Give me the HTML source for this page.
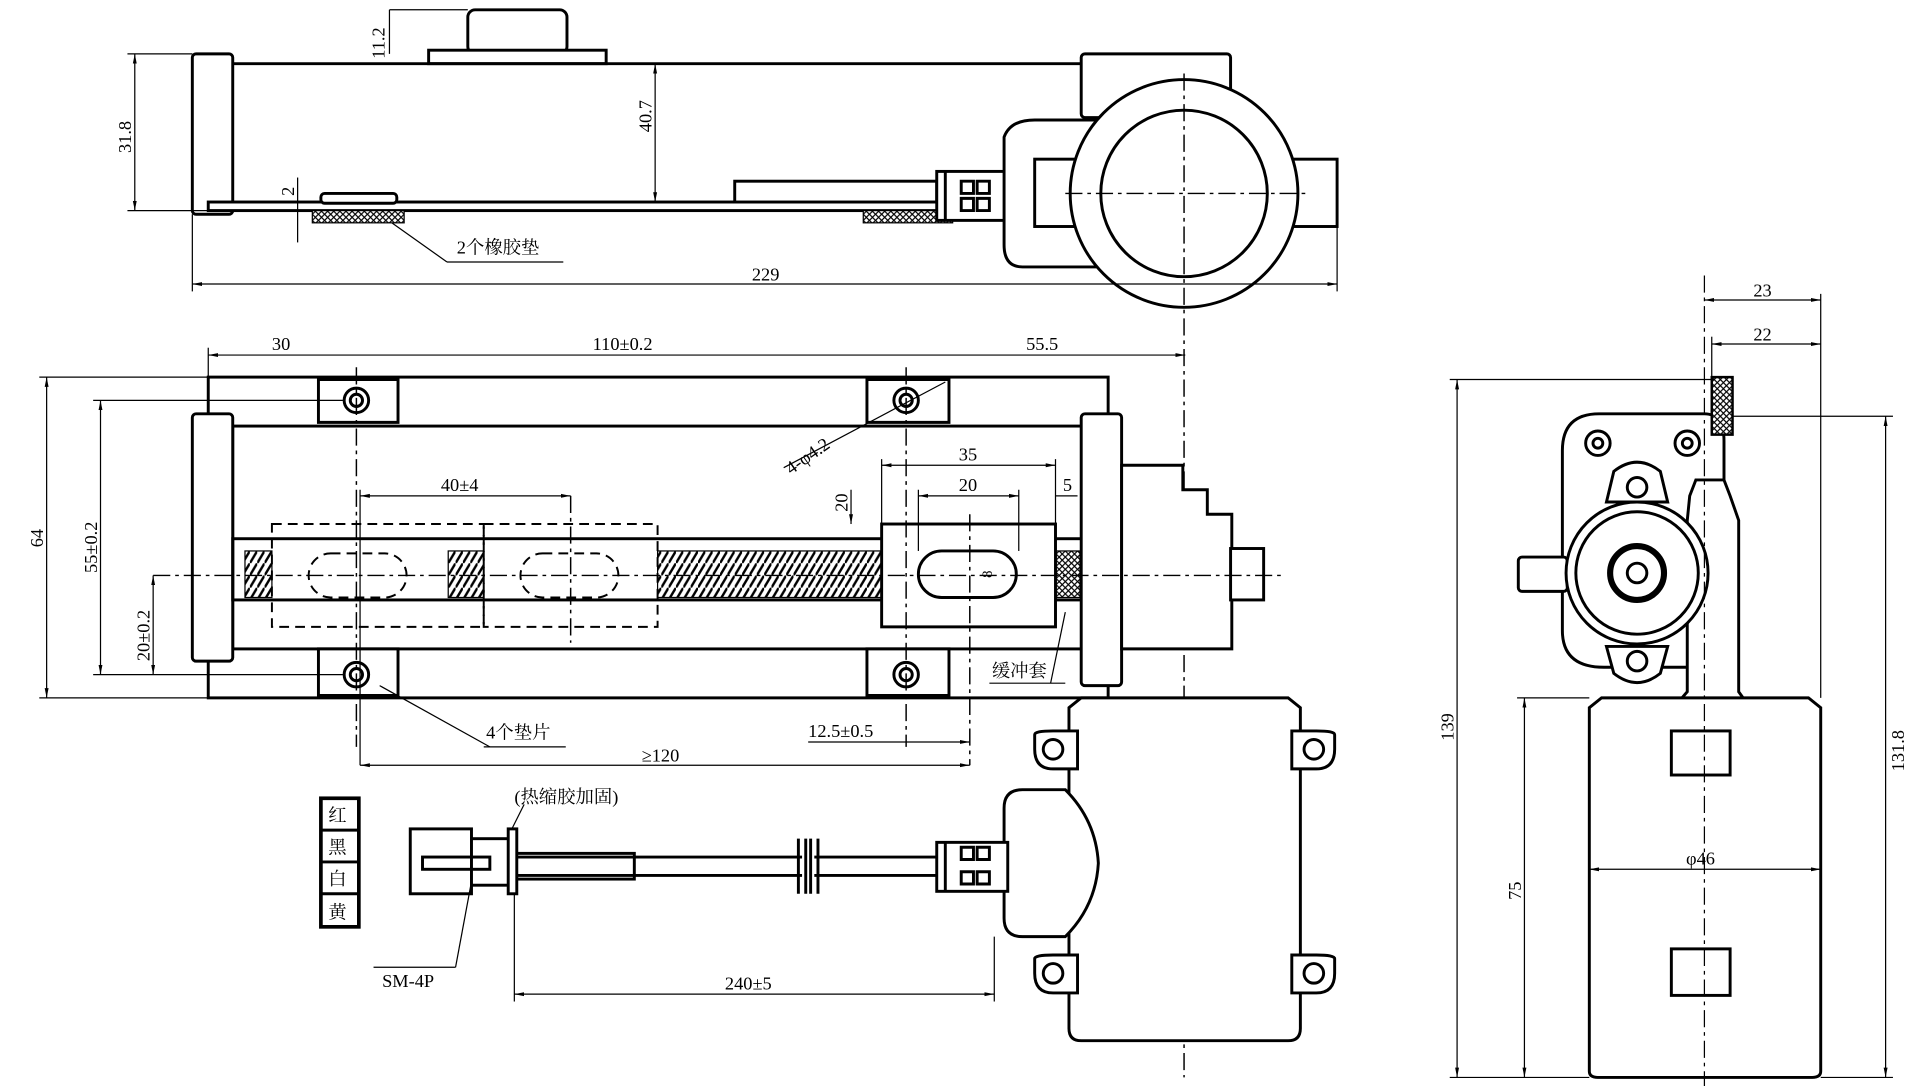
<!DOCTYPE html>
<html><head><meta charset="utf-8"><style>
html,body{margin:0;padding:0;background:#fff;}
svg{display:block;}
text{font-family:"Liberation Serif","Noto Serif CJK SC",serif;font-size:15px;fill:#000;}
.o{fill:none;stroke:#000;stroke-width:2.4;}
.t{fill:none;stroke:#000;stroke-width:1;}
.d{fill:none;stroke:#000;stroke-width:1.2;stroke-dasharray:14 4 3 4;}
.h{fill:none;stroke:#000;stroke-width:1.6;stroke-dasharray:8 5;}
.f{fill:#fff;stroke:#000;stroke-width:2.4;}
</style></head><body>
<svg width="1920" height="1086" viewBox="0 0 1568 887" xmlns="http://www.w3.org/2000/svg">
<defs>
<marker id="a" viewBox="0 0 10 10" refX="10" refY="5" markerWidth="8" markerHeight="8" orient="auto-start-reverse"><path d="M0,3 L10,5 L0,7z" fill="#000"/></marker>
<pattern id="x" width="5" height="5" patternUnits="userSpaceOnUse"><rect width="5" height="5" fill="#fff"/><path d="M0,0L5,5M5,0L0,5" stroke="#000" stroke-width="1"/></pattern>
<pattern id="s" width="6" height="10" patternUnits="userSpaceOnUse"><rect width="6" height="10" fill="#fff"/><path d="M0,10L6,0" stroke="#000" stroke-width="2"/></pattern>
</defs>

<!-- ===== TOP VIEW ===== -->
<rect class="f" x="382" y="8" width="81" height="36" rx="6"/>
<rect class="f" x="350" y="41" width="145" height="11"/>
<line class="o" x1="190" y1="52" x2="885" y2="52"/>
<rect class="f" x="157" y="44" width="33" height="131" rx="3"/>
<rect class="f" x="170" y="165" width="630" height="7"/>
<rect class="f" x="600" y="148" width="165" height="17"/>
<rect x="255" y="172" width="75" height="10" fill="url(#x)" stroke="#000"/>
<rect x="705" y="172" width="73" height="10" fill="url(#x)" stroke="#000"/>
<rect class="f" x="262" y="158" width="62" height="8" rx="3"/>
<rect class="f" x="765" y="140" width="58" height="40"/>
<path class="o" d="M772,140V180M785,148h10v10h-10zM785,162h10v10h-10zM798,148h10v10h-10zM798,162h10v10h-10z"/>
<path class="f" d="M820,112 Q825,98 845,98 H900 V218 H835 Q820,218 820,200z"/>
<rect class="f" x="883" y="44" width="122" height="52" rx="3"/>
<rect class="f" x="845" y="130" width="247" height="55"/>
<circle class="f" cx="967" cy="158" r="93"/>
<circle class="o" cx="967" cy="158" r="68"/>
<line class="d" x1="870" y1="158" x2="1070" y2="158"/>
<line class="d" x1="967" y1="60" x2="967" y2="880"/>
<!-- top dims -->
<line class="t" x1="157" y1="232" x2="1092" y2="232" marker-start="url(#a)" marker-end="url(#a)"/>
<line class="t" x1="157" y1="175" x2="157" y2="238"/><line class="t" x1="1092" y1="185" x2="1092" y2="238"/>
<text x="614" y="229">229</text>
<line class="t" x1="110" y1="44" x2="110" y2="172" marker-start="url(#a)" marker-end="url(#a)"/>
<line class="t" x1="104" y1="44" x2="157" y2="44"/><line class="t" x1="104" y1="172" x2="170" y2="172"/>
<text transform="translate(107,125) rotate(-90)">31.8</text>
<line class="t" x1="535" y1="52" x2="535" y2="165" marker-start="url(#a)" marker-end="url(#a)"/>
<text transform="translate(532,108) rotate(-90)">40.7</text>
<line class="t" x1="318" y1="8" x2="318" y2="44"/><line class="t" x1="318" y1="8" x2="382" y2="8"/>
<text transform="translate(314,48) rotate(-90)">11.2</text>
<line class="t" x1="243" y1="145" x2="243" y2="198"/>
<text transform="translate(240,160) rotate(-90)">2</text>
<line class="t" x1="320" y1="182" x2="365" y2="214"/><line class="t" x1="365" y1="214" x2="460" y2="214"/>
<text x="373" y="207">2个橡胶垫</text>

<!-- ===== MIDDLE VIEW ===== -->
<rect class="o" x="170" y="308" width="735" height="262"/>
<rect class="f" x="190" y="348" width="695" height="182"/>
<rect class="f" x="157" y="338" width="33" height="202" rx="3"/>
<g class="f">
<path d="M260,310h65v35h-65z"/><path d="M708,310h67v35h-67z"/><path d="M260,530h65v38h-65z"/><path d="M708,530h67v38h-67z"/>
</g>
<g class="o"><circle cx="291" cy="327" r="10"/><circle cx="740" cy="327" r="10"/><circle cx="291" cy="551" r="10"/><circle cx="740" cy="551" r="10"/>
<circle cx="291" cy="327" r="5"/><circle cx="740" cy="327" r="5"/><circle cx="291" cy="551" r="5"/><circle cx="740" cy="551" r="5"/></g>
<rect class="o" x="190" y="440" width="695" height="50"/>
<rect x="537" y="450" width="183" height="38" fill="url(#s)" stroke="#000"/>
<rect x="200" y="450" width="22" height="38" fill="url(#s)" stroke="#000"/>
<rect x="366" y="450" width="29" height="38" fill="url(#s)" stroke="#000"/>
<rect x="862" y="450" width="20" height="38" fill="url(#x)" stroke="#000"/>
<rect x="222" y="428" width="173" height="84" fill="#fff" class="h"/>
<rect x="395" y="428" width="142" height="84" fill="#fff" class="h"/>
<rect class="h" x="252" y="452" width="80" height="36" rx="18"/>
<rect class="h" x="425" y="452" width="80" height="36" rx="18"/>
<rect class="f" x="720" y="428" width="142" height="84"/>
<rect class="o" x="750" y="450" width="80" height="38" rx="19"/>
<rect class="f" x="883" y="338" width="33" height="222" rx="3"/>
<path class="f" d="M916,380h50v20h20v20h20v110h-90z"/>
<rect class="f" x="1005" y="448" width="27" height="42"/>
<line class="d" x1="125" y1="470" x2="1050" y2="470"/>
<line class="d" x1="291" y1="300" x2="291" y2="610"/><line class="d" x1="740" y1="300" x2="740" y2="610"/>
<line class="d" x1="466" y1="405" x2="466" y2="525"/><line class="d" x1="792" y1="420" x2="792" y2="625"/>
<!-- dims -->
<line class="t" x1="170" y1="290" x2="968" y2="290" marker-start="url(#a)" marker-end="url(#a)"/>
<line class="t" x1="170" y1="284" x2="170" y2="308"/>
<text x="222" y="286">30</text><text x="484" y="286">110±0.2</text><text x="838" y="286">55.5</text>
<line class="t" x1="38" y1="308" x2="38" y2="570" marker-start="url(#a)" marker-end="url(#a)"/>
<line class="t" x1="32" y1="308" x2="170" y2="308"/><line class="t" x1="32" y1="570" x2="170" y2="570"/>
<text transform="translate(35,447) rotate(-90)">64</text>
<line class="t" x1="82" y1="327" x2="82" y2="551" marker-start="url(#a)" marker-end="url(#a)"/>
<line class="t" x1="76" y1="327" x2="280" y2="327"/><line class="t" x1="76" y1="551" x2="280" y2="551"/>
<text transform="translate(79,468) rotate(-90)">55±0.2</text>
<line class="t" x1="125" y1="470" x2="125" y2="551" marker-start="url(#a)" marker-end="url(#a)"/>
<text transform="translate(122,540) rotate(-90)">20±0.2</text>
<line class="t" x1="294" y1="405" x2="466" y2="405" marker-start="url(#a)" marker-end="url(#a)"/>
<line class="t" x1="294" y1="400" x2="294" y2="625"/>
<text x="360" y="401">40±4</text>
<line class="t" x1="720" y1="380" x2="862" y2="380" marker-start="url(#a)" marker-end="url(#a)"/>
<line class="t" x1="720" y1="375" x2="720" y2="428"/><line class="t" x1="862" y1="375" x2="862" y2="428"/>
<text x="783" y="376">35</text>
<line class="t" x1="750" y1="405" x2="832" y2="405" marker-start="url(#a)" marker-end="url(#a)"/>
<line class="t" x1="750" y1="400" x2="750" y2="450"/><line class="t" x1="832" y1="400" x2="832" y2="450"/>
<text x="783" y="401">20</text>
<line class="t" x1="862" y1="405" x2="880" y2="405"/><text x="868" y="401">5</text>
<line class="t" x1="695" y1="400" x2="695" y2="428" marker-end="url(#a)"/>
<text transform="translate(692,418) rotate(-90)">20</text>
<text transform="translate(810,472) rotate(-90)" style="font-size:12px">8</text>
<line class="t" x1="640" y1="382" x2="772" y2="312"/>
<text transform="translate(646,388) rotate(-35)">4-φ4.2</text>
<line class="t" x1="294" y1="625" x2="792" y2="625" marker-start="url(#a)" marker-end="url(#a)"/>
<text x="524" y="622">≥120</text>
<line class="t" x1="660" y1="606" x2="792" y2="606" marker-end="url(#a)"/>
<text x="660" y="602">12.5±0.5</text>
<line class="t" x1="310" y1="560" x2="400" y2="610"/><line class="t" x1="395" y1="610" x2="462" y2="610"/>
<text x="397" y="603">4个垫片</text>
<line class="t" x1="870" y1="500" x2="858" y2="558"/><line class="t" x1="808" y1="558" x2="870" y2="558"/>
<text x="810" y="553">缓冲套</text>

<!-- motor -->
<path class="f" d="M873,578 L883,570 H1052 L1062,578 V840 Q1062,850 1052,850 H883 Q873,850 873,840z"/>
<g class="f">
<path d="M845,600 Q845,597 860,597 H880 V628 H860 Q845,628 845,612z"/><path d="M1090,600 Q1090,597 1075,597 H1055 V628 H1075 Q1090,628 1090,612z"/>
<path d="M845,783 Q845,780 860,780 H880 V811 H860 Q845,811 845,795z"/><path d="M1090,783 Q1090,780 1075,780 H1055 V811 H1075 Q1090,811 1090,795z"/>
</g>
<g class="o"><circle cx="860" cy="612" r="8"/><circle cx="1073" cy="612" r="8"/><circle cx="860" cy="795" r="8"/><circle cx="1073" cy="795" r="8"/></g>
<path class="f" d="M820,660 Q820,645 835,645 H870 Q895,670 897,705 Q895,740 870,765 H835 Q820,765 820,750z"/>
<rect class="f" x="765" y="688" width="58" height="40"/>
<path class="o" d="M772,688V728M785,692h10v10h-10zM785,712h10v10h-10zM798,692h10v10h-10zM798,712h10v10h-10z"/>
<!-- cable -->
<path class="o" d="M420,700H655M420,715H655M665,700H765M665,715H765"/>
<path class="o" d="M652,685V730M658,685V730M662,685V730M668,685V730"/>
<rect class="o" x="420" y="697" width="98" height="21"/>
<rect class="f" x="335" y="677" width="50" height="53"/>
<rect class="f" x="385" y="685" width="32" height="38"/>
<rect class="o" x="345" y="700" width="55" height="10"/>
<rect class="f" x="415" y="677" width="7" height="53"/>
<line class="t" x1="418" y1="677" x2="428" y2="657"/>
<text x="420" y="656">(热缩胶加固)</text>
<g class="f"><rect x="262" y="652" width="31" height="105" style="stroke-width:3"/></g>
<path class="o" d="M262,678H293M262,704H293M262,730H293"/>
<text x="268" y="671">红</text><text x="268" y="697">黑</text><text x="268" y="723">白</text><text x="268" y="750">黄</text>
<line class="t" x1="385" y1="720" x2="372" y2="790"/><line class="t" x1="305" y1="790" x2="372" y2="790"/>
<text x="312" y="806">SM-4P</text>
<line class="t" x1="420" y1="730" x2="420" y2="818"/><line class="t" x1="812" y1="765" x2="812" y2="818"/>
<line class="t" x1="420" y1="812" x2="812" y2="812" marker-start="url(#a)" marker-end="url(#a)"/>
<text x="592" y="808">240±5</text>

<!-- ===== RIGHT VIEW ===== -->
<path class="f" d="M1276,368 Q1276,338 1306,338 H1392 Q1408,338 1408,360 V545 H1310 Q1276,545 1276,515z"/>
<g class="o"><circle cx="1305" cy="362" r="10"/><circle cx="1378" cy="362" r="10"/><circle cx="1305" cy="362" r="4"/><circle cx="1378" cy="362" r="4"/></g>
<path class="f" d="M1380,405 L1385,392 H1408 L1413,405 L1420,425 V565 L1425,572 H1372 L1378,565 V425z"/>
<path class="f" d="M1318,385 Q1337,370 1356,385 L1362,410 H1312z M1318,550 Q1337,565 1356,550 L1362,528 H1312z"/>
<g class="o"><circle cx="1337" cy="398" r="8"/><circle cx="1337" cy="540" r="8"/></g>
<rect class="f" x="1240" y="455" width="40" height="28" rx="3"/>
<circle class="f" cx="1337" cy="468" r="58"/>
<circle class="o" cx="1337" cy="468" r="50"/>
<circle cx="1337" cy="468" r="22" fill="none" stroke="#000" stroke-width="5"/>
<circle class="o" cx="1337" cy="468" r="8"/>
<rect x="1398" y="308" width="17" height="47" fill="url(#x)" stroke="#000" stroke-width="2"/>
<path class="f" d="M1298,578 L1308,570 H1477 L1487,578 V875 Q1487,880 1480,880 H1305 Q1298,880 1298,875z"/>
<rect class="o" x="1365" y="597" width="48" height="36"/>
<rect class="o" x="1365" y="775" width="48" height="38"/>
<line class="t" x1="1392" y1="225" x2="1392" y2="887" stroke-dasharray="14 4 3 4"/>
<line class="t" x1="1487" y1="240" x2="1487" y2="570"/>
<line class="t" x1="1398" y1="275" x2="1398" y2="330"/>
<line class="t" x1="1392" y1="245" x2="1487" y2="245" marker-start="url(#a)" marker-end="url(#a)"/>
<text x="1432" y="242">23</text>
<line class="t" x1="1398" y1="281" x2="1487" y2="281" marker-start="url(#a)" marker-end="url(#a)"/>
<text x="1432" y="278">22</text>
<line class="t" x1="1190" y1="310" x2="1190" y2="880" marker-start="url(#a)" marker-end="url(#a)"/>
<line class="t" x1="1184" y1="310" x2="1400" y2="310"/><line class="t" x1="1184" y1="880" x2="1298" y2="880"/>
<text transform="translate(1187,605) rotate(-90)">139</text>
<line class="t" x1="1540" y1="340" x2="1540" y2="880" marker-start="url(#a)" marker-end="url(#a)"/>
<line class="t" x1="1415" y1="340" x2="1546" y2="340"/><line class="t" x1="1487" y1="880" x2="1546" y2="880"/>
<text transform="translate(1555,630) rotate(-90)">131.8</text>
<line class="t" x1="1245" y1="570" x2="1245" y2="880" marker-start="url(#a)" marker-end="url(#a)"/>
<line class="t" x1="1239" y1="570" x2="1298" y2="570"/>
<text transform="translate(1242,735) rotate(-90)">75</text>
<line class="t" x1="1298" y1="710" x2="1487" y2="710" marker-start="url(#a)" marker-end="url(#a)"/>
<text x="1377" y="706">φ46</text>
</svg>
</body></html>
